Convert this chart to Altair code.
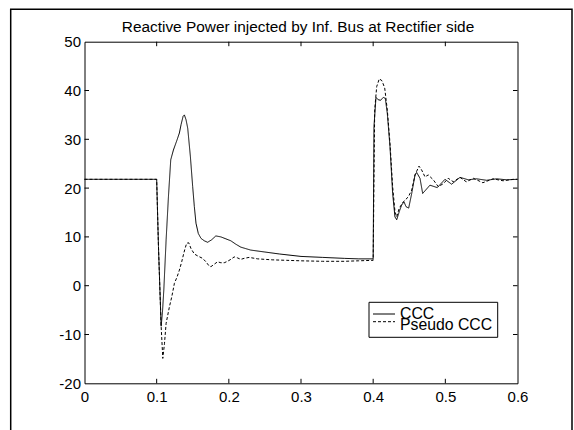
import altair as alt
import pandas as pd

# ---- data ----
ccc_t = [0.0, 0.1, 0.1025, 0.1062, 0.108, 0.1099, 0.1131, 0.1163, 0.1195, 0.1232, 0.1283,
         0.1315, 0.1338, 0.1366, 0.1384, 0.1407, 0.143, 0.1467, 0.1499, 0.1522, 0.1545,
         0.1577, 0.1614, 0.166, 0.1706, 0.1761, 0.182, 0.189, 0.1959, 0.2028, 0.2097,
         0.2166, 0.2234, 0.2303, 0.25, 0.27, 0.3, 0.33, 0.36, 0.38, 0.4,
         0.4011, 0.4039, 0.407, 0.4104, 0.414, 0.4168, 0.4196, 0.4233, 0.427, 0.4302,
         0.4326, 0.4362, 0.4394, 0.4427, 0.4455, 0.4492, 0.4534, 0.458, 0.4603, 0.4649,
         0.4686, 0.4787, 0.4888, 0.4995, 0.5087, 0.5203, 0.5318, 0.5434, 0.5572, 0.571,
         0.585, 0.6]
ccc_q = [21.8, 21.8, 8.0, -8.3, -5.5, -0.9, 9.4, 18.2, 25.8, 27.8, 29.9,
         31.3, 33.0, 34.7, 35.0, 34.0, 32.3, 26.5, 20.3, 16.2, 12.8,
         10.7, 9.7, 9.2, 8.9, 9.4, 10.2, 10.0, 9.6, 9.2, 8.5,
         7.9, 7.6, 7.3, 6.9, 6.5, 6.0, 5.8, 5.6, 5.5, 5.5,
         32.6, 38.6, 38.1, 38.0, 38.6, 38.4, 35.3, 28.5, 18.9, 14.1,
         13.5, 15.2, 16.5, 17.2, 16.2, 15.9, 18.9, 22.7, 23.2, 22.0,
         18.9, 20.6, 20.1, 21.8, 20.8, 22.2, 21.7, 21.9, 21.6, 21.9,
         21.7, 21.8]

pseudo_t = [0.0, 0.1, 0.1025, 0.1062, 0.1085, 0.1108, 0.1131, 0.1177, 0.1209, 0.1246,
            0.1283, 0.1315, 0.1347, 0.1375, 0.1393, 0.1416, 0.1444, 0.1476, 0.1522, 0.1568,
            0.1637, 0.1683, 0.1729, 0.1752, 0.1798, 0.1844, 0.189, 0.1936, 0.1982, 0.2028,
            0.2074, 0.212, 0.2166, 0.2212, 0.2281, 0.24, 0.26, 0.28, 0.3, 0.33, 0.36, 0.38, 0.4,
            0.4021, 0.4049, 0.4085, 0.4122, 0.416, 0.4196, 0.4233, 0.427, 0.4302, 0.4326,
            0.4362, 0.4418, 0.4487, 0.4534, 0.458, 0.4635, 0.4672, 0.4718, 0.4764, 0.4833,
            0.4902, 0.4972, 0.5041, 0.511, 0.5203, 0.529, 0.539, 0.552, 0.566, 0.58, 0.594, 0.6]
pseudo_q = [21.8, 21.8, 8.0, -8.3, -14.9, -11.9, -7.7, -4.3, -2.3, 0.5,
            1.8, 3.2, 4.9, 6.6, 7.6, 8.7, 8.8, 7.6, 6.5, 6.1,
            5.6, 4.9, 4.0, 3.9, 4.4, 4.9, 4.7, 4.7, 5.0, 5.4,
            5.9, 5.7, 5.4, 5.6, 5.8, 5.5, 5.3, 5.2, 5.1, 5.0, 5.0, 5.1, 5.2,
            36.0, 40.8, 42.4, 42.0, 40.5, 36.0, 29.2, 20.3, 15.2, 14.1,
            15.9, 17.2, 18.2, 19.6, 22.7, 24.5, 23.7, 22.3, 22.7, 21.7,
            20.3, 20.9, 22.0, 21.3, 22.2, 21.3, 22.0, 21.1, 21.9, 21.5, 21.8, 21.8]

series_names = ["CCC", "Pseudo CCC"]
x_ticks = [0, 0.1, 0.2, 0.3, 0.4, 0.5, 0.6]
y_ticks = [-20, -10, 0, 10, 20, 30, 40, 50]
title_text = "Reactive Power injected by Inf. Bus at Rectifier side"

# ---- layout (pixels) ----
W, H = 433, 341.6
PAD_L, PAD_T = 84.5, 41.7
PAD_R, PAD_B = 574 - W - PAD_L, 430 - H - PAD_T
TICK = 4.5
FONT = "Liberation Sans"
# legend box geometry (pixels, relative to plot area)
LEG_X0, LEG_X1, LEG_Y0, LEG_Y1 = 284.5, 413.2, 260.6, 295.6
LEG_LINE_X0, LEG_LINE_X1, LEG_TEXT_X = 288.5, 310.5, 315.5
LEG_LINE_Y = [272.3, 280.0]
LEG_TEXT_Y = [277.7, 288.4]

df = pd.concat([
    pd.DataFrame({"t": ccc_t, "Q": ccc_q, "series": series_names[0], "order": range(len(ccc_t))}),
    pd.DataFrame({"t": pseudo_t, "Q": pseudo_q, "series": series_names[1], "order": range(len(pseudo_t))}),
])

xscale = alt.Scale(domain=[x_ticks[0], x_ticks[-1]], nice=False, zero=False)
yscale = alt.Scale(domain=[y_ticks[0], y_ticks[-1]], nice=False, zero=False)
dash_scale = alt.Scale(domain=series_names, range=[[1, 0], [3, 2]])
xaxis = alt.Axis(title=None, values=x_ticks, labelExpr="'' + datum.value", grid=False,
                 domain=False, ticks=False, labelPadding=6, labelFontSize=15,
                 labelColor="black", labelFlush=False, labelOverlap=False, labelFont=FONT)
yaxis = alt.Axis(title=None, values=y_ticks, labelExpr="'' + datum.value", grid=False,
                 domain=False, ticks=False, labelPadding=4, labelFontSize=15,
                 labelColor="black", labelFlush=False, labelOverlap=False, labelFont=FONT)

lines = alt.Chart(df).mark_line(color="black", strokeWidth=1).encode(
    x=alt.X("t:Q", scale=xscale, axis=xaxis),
    y=alt.Y("Q:Q", scale=yscale, axis=yaxis),
    strokeDash=alt.StrokeDash("series:N", scale=dash_scale, legend=None),
    order="order:Q",
)

xt_inner = pd.DataFrame({"t": x_ticks[1:-1]})
yt_inner = pd.DataFrame({"Q": y_ticks[1:-1]})

tick_bottom = alt.Chart(xt_inner).mark_rule(color="black", strokeWidth=1).encode(
    x=alt.X("t:Q", scale=xscale, axis=xaxis), y=alt.value(H), y2=alt.value(H - TICK))
tick_top = alt.Chart(xt_inner).mark_rule(color="black", strokeWidth=1).encode(
    x=alt.X("t:Q", scale=xscale, axis=xaxis), y=alt.value(0), y2=alt.value(TICK))
tick_left = alt.Chart(yt_inner).mark_rule(color="black", strokeWidth=1).encode(
    y=alt.Y("Q:Q", scale=yscale, axis=yaxis), x=alt.value(0), x2=alt.value(TICK))
tick_right = alt.Chart(yt_inner).mark_rule(color="black", strokeWidth=1).encode(
    y=alt.Y("Q:Q", scale=yscale, axis=yaxis), x=alt.value(W), x2=alt.value(W - TICK))

one_row = alt.Data(values=[{"k": 1}])
frame = alt.Chart(one_row).mark_rect(
    fillOpacity=0, stroke="black", strokeWidth=1.5).encode(
    x=alt.value(10.7 - PAD_L), x2=alt.value(572 - PAD_L),
    y=alt.value(9.3 - PAD_T), y2=alt.value(460 - PAD_T))

title = alt.Chart(one_row).mark_text(
    text=title_text, fontSize=15.4, font=FONT, color="black",
    align="center", baseline="alphabetic").encode(
    x=alt.value(W / 2 - 3), y=alt.value(-10))

# ---- legend (box + one entry per series) ----
legend_layers = [
    alt.Chart(one_row).mark_rect(fill="white", stroke="black", strokeWidth=1).encode(
        x=alt.value(LEG_X0), x2=alt.value(LEG_X1), y=alt.value(LEG_Y0), y2=alt.value(LEG_Y1))
]
for i, name in enumerate(series_names):
    entry = alt.Data(values=[{"series": name}])
    legend_layers.append(
        alt.Chart(entry).mark_rule(color="black", strokeWidth=1).encode(
            x=alt.value(LEG_LINE_X0), x2=alt.value(LEG_LINE_X1), y=alt.value(LEG_LINE_Y[i]),
            strokeDash=alt.StrokeDash("series:N", scale=dash_scale, legend=None)))
    legend_layers.append(
        alt.Chart(entry).mark_text(fontSize=15.8, font=FONT, color="black", align="left",
                                   baseline="alphabetic").encode(
            x=alt.value(LEG_TEXT_X), y=alt.value(LEG_TEXT_Y[i]), text="series:N"))

chart = alt.layer(frame, title, lines, tick_bottom, tick_top, tick_left, tick_right,
                  *legend_layers).properties(
    width=W, height=H,
    autosize=alt.AutoSizeParams(type="none"),
    padding={"left": PAD_L, "top": PAD_T, "right": PAD_R, "bottom": PAD_B},
    background="white",
).configure(font=FONT).configure_view(stroke="black", strokeWidth=1)

chart.save("out.html", embed_options={"renderer": "svg", "actions": False})
